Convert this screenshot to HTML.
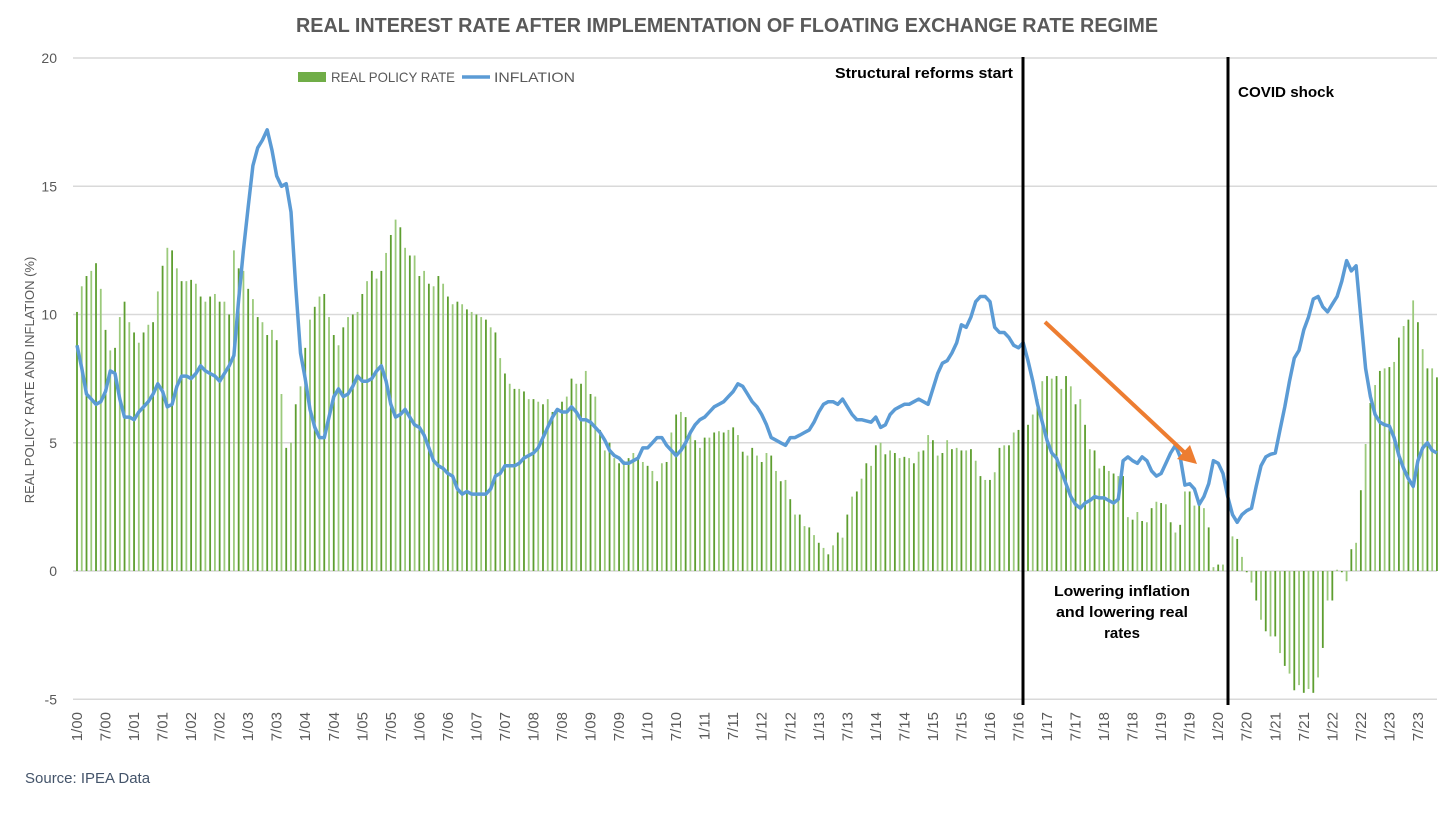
<!DOCTYPE html>
<html><head><meta charset="utf-8">
<style>
html,body{margin:0;padding:0;background:#fff;}
svg{display:block;font-family:"Liberation Sans",sans-serif;}
</style></head>
<body>
<svg id="chart" width="1456" height="818" viewBox="0 0 1456 818">
  <text x="727" y="32" text-anchor="middle" font-size="20" font-weight="bold" fill="#595959" textLength="862" lengthAdjust="spacingAndGlyphs">REAL INTEREST RATE AFTER IMPLEMENTATION OF FLOATING EXCHANGE RATE REGIME</text>
  <g id="grid"></g>
  <g id="yticks"></g>
  <g id="bars"></g>
  <path id="infl" fill="none" stroke="#5b9bd5" stroke-width="3.5" stroke-linejoin="round"/>
  <g id="xticks"></g>
  <text transform="translate(34,380) rotate(-90)" text-anchor="middle" font-size="13" fill="#595959">REAL POLICY RATE AND INFLATION (%)</text>
  <g>
    <rect x="298" y="72" width="28" height="10" fill="#70ad47"/>
    <text x="331" y="82" font-size="14" fill="#595959" textLength="124" lengthAdjust="spacingAndGlyphs">REAL POLICY RATE</text>
    <line x1="462" y1="77" x2="490" y2="77" stroke="#5b9bd5" stroke-width="3.5"/>
    <text x="494" y="82" font-size="14" fill="#595959" textLength="81" lengthAdjust="spacingAndGlyphs">INFLATION</text>
  </g>
  <line x1="1023" y1="57" x2="1023" y2="705" stroke="#000" stroke-width="3"/>
  <line x1="1228" y1="57" x2="1228" y2="705" stroke="#000" stroke-width="3"/>
  <text x="1013" y="78" text-anchor="end" font-size="15" font-weight="bold" fill="#000" textLength="178" lengthAdjust="spacingAndGlyphs">Structural reforms start</text>
  <text x="1238" y="97" font-size="15" font-weight="bold" fill="#000" textLength="96" lengthAdjust="spacingAndGlyphs">COVID shock</text>
  <g font-size="15" font-weight="bold" fill="#000" text-anchor="middle">
    <text x="1122" y="596" textLength="136" lengthAdjust="spacingAndGlyphs">Lowering inflation</text>
    <text x="1122" y="617" textLength="132" lengthAdjust="spacingAndGlyphs">and lowering real</text>
    <text x="1122" y="638">rates</text>
  </g>
  <g>
    <line x1="1045" y1="322" x2="1184" y2="452" stroke="#ed7d31" stroke-width="4"/>
    <polygon points="1197,464 1177,459 1190,445" fill="#ed7d31"/>
  </g>
  <text x="25" y="783" font-size="15" fill="#44546a">Source: IPEA Data</text>
</svg>
<script>
const inflation = [
8.8,7.9,6.9,6.7,6.5,6.6,7.0,7.8,7.7,6.7,6.0,6.0,
5.9,6.2,6.4,6.6,6.9,7.3,7.0,6.4,6.5,7.2,7.6,7.6,
7.5,7.7,8.0,7.8,7.7,7.6,7.4,7.7,8.0,8.4,10.6,12.5,
14.2,15.8,16.5,16.8,17.2,16.4,15.4,15.0,15.1,14.0,11.1,8.5,
7.5,6.3,5.6,5.2,5.2,6.0,6.8,7.1,6.8,6.9,7.2,7.6,
7.4,7.4,7.5,7.8,8.0,7.4,6.5,6.0,6.1,6.3,6.0,5.7,
5.6,5.3,4.8,4.3,4.1,4.0,3.8,3.7,3.2,3.0,3.1,3.0,
3.0,3.0,3.0,3.2,3.7,3.8,4.1,4.1,4.1,4.2,4.4,4.5,
4.6,4.8,5.2,5.6,6.0,6.3,6.2,6.2,6.4,6.2,5.9,5.9,
5.8,5.6,5.4,5.1,4.7,4.5,4.4,4.2,4.2,4.3,4.4,4.8,
4.8,5.0,5.2,5.2,4.9,4.7,4.5,4.7,5.0,5.4,5.7,5.9,
6.0,6.2,6.4,6.5,6.6,6.8,7.0,7.3,7.2,6.9,6.6,6.4,
6.1,5.7,5.2,5.1,5.0,4.9,5.2,5.2,5.3,5.4,5.5,5.8,
6.2,6.5,6.6,6.6,6.5,6.7,6.4,6.1,5.9,5.9,5.85,5.8,
6.0,5.6,5.7,6.1,6.3,6.4,6.5,6.5,6.6,6.7,6.6,6.5,
7.1,7.7,8.1,8.2,8.5,8.9,9.6,9.5,9.9,10.5,10.7,10.7,
10.5,9.5,9.3,9.3,9.1,8.8,8.7,8.9,8.2,7.4,6.5,5.8,
5.1,4.6,4.4,3.9,3.4,2.9,2.6,2.45,2.65,2.75,2.9,2.85,
2.85,2.75,2.65,2.8,4.3,4.45,4.3,4.2,4.45,4.3,3.9,3.7,
3.8,4.2,4.6,4.9,4.45,3.35,3.4,3.2,2.6,2.9,3.4,4.3,
4.2,3.8,2.9,2.2,1.9,2.2,2.35,2.45,3.3,4.1,4.45,4.55,
4.6,5.5,6.4,7.4,8.3,8.6,9.4,9.9,10.6,10.7,10.3,10.1,
10.4,10.7,11.3,12.1,11.7,11.9,9.9,7.9,6.8,6.1,5.8,5.7,
5.65,5.2,4.5,4.0,3.6,3.3,4.3,4.8,5.0,4.7,4.6];
const realRate = [
10.1,11.1,11.5,11.7,12.0,11.0,9.4,8.6,8.7,9.9,10.5,9.7,
9.3,8.9,9.3,9.6,9.7,10.9,11.9,12.6,12.5,11.8,11.3,11.3,
11.35,11.2,10.7,10.5,10.7,10.8,10.5,10.5,10.0,12.5,11.8,11.7,
11.0,10.6,9.9,9.7,9.2,9.4,9.0,6.9,4.8,5.0,6.5,7.2,
8.7,9.8,10.3,10.7,10.8,9.9,9.2,8.8,9.5,9.9,10.0,10.1,
10.8,11.3,11.7,11.4,11.7,12.4,13.1,13.7,13.4,12.6,12.3,12.3,
11.5,11.7,11.2,11.1,11.5,11.2,10.7,10.4,10.5,10.4,10.2,10.1,
10.0,9.9,9.8,9.5,9.3,8.3,7.7,7.3,7.1,7.1,7.0,6.7,
6.7,6.6,6.5,6.7,6.2,6.3,6.6,6.8,7.5,7.3,7.3,7.8,
6.9,6.8,5.5,4.7,5.0,4.4,4.2,4.3,4.4,4.6,4.5,4.25,
4.1,3.9,3.5,4.2,4.25,5.4,6.1,6.2,6.0,5.5,5.1,4.8,
5.2,5.2,5.4,5.45,5.4,5.5,5.6,5.3,4.65,4.5,4.8,4.5,
4.25,4.6,4.5,3.9,3.5,3.55,2.8,2.2,2.2,1.75,1.7,1.4,
1.1,0.9,0.65,1.0,1.5,1.3,2.2,2.9,3.1,3.6,4.2,4.1,
4.9,5.0,4.55,4.7,4.6,4.4,4.45,4.4,4.2,4.65,4.7,5.3,
5.1,4.5,4.6,5.1,4.75,4.8,4.7,4.7,4.75,4.3,3.7,3.55,
3.55,3.85,4.8,4.9,4.9,5.4,5.5,5.7,5.7,6.1,6.7,7.4,
7.6,7.5,7.6,7.1,7.6,7.2,6.5,6.7,5.7,4.75,4.7,4.0,
4.1,3.9,3.8,3.7,3.7,2.1,2.0,2.3,1.95,1.9,2.45,2.7,
2.65,2.6,1.9,1.5,1.8,3.1,3.1,2.55,2.55,2.45,1.7,0.15,
0.25,0.25,1.0,1.35,1.25,0.55,-0.05,-0.45,-1.15,-1.9,-2.35,-2.55,
-2.55,-3.2,-3.7,-4.0,-4.65,-4.45,-4.75,-4.6,-4.75,-4.15,-3.0,-1.15,
-1.15,0.05,-0.05,-0.4,0.85,1.1,3.15,4.95,6.55,7.25,7.8,7.9,
7.95,8.15,9.1,9.55,9.8,10.55,9.7,8.65,7.9,7.9,7.55];
const yTicks = [20,15,10,5,0,-5];
const startYear = 2000;

const NS = "http://www.w3.org/2000/svg";
const X0 = 77, DX = 4.755;
const Y0 = 571, DY = 25.65;
const xs = i => X0 + i*DX;
const ys = v => Y0 - v*DY;

const grid = document.getElementById('grid');
const yt = document.getElementById('yticks');
yTicks.forEach(t => {
  const l = document.createElementNS(NS,'line');
  l.setAttribute('x1',73); l.setAttribute('x2',1437);
  l.setAttribute('y1',ys(t)); l.setAttribute('y2',ys(t));
  l.setAttribute('stroke','#d9d9d9'); l.setAttribute('stroke-width','1.5');
  
  
  grid.appendChild(l);
  const tx = document.createElementNS(NS,'text');
  tx.setAttribute('x',57); tx.setAttribute('y',ys(t)+5);
  tx.setAttribute('text-anchor','end'); tx.setAttribute('font-size','14'); tx.setAttribute('fill','#595959');
  tx.textContent = t;
  
  
  yt.appendChild(tx);
});

const bars = document.getElementById('bars');
realRate.forEach((v,i) => {
  const r = document.createElementNS(NS,'rect');
  const y = Math.min(ys(v), Y0), h = Math.abs(ys(v)-Y0);
  r.setAttribute('x', xs(i)-0.9); r.setAttribute('width', 1.8);
  r.setAttribute('y', y); r.setAttribute('height', Math.max(h,0.3));
  r.setAttribute('fill', i%2 ? '#9cca7c' : '#5e9e30');
  
  
  bars.appendChild(r);
});

let d = '';
inflation.forEach((v,i) => { d += (i?'L':'M') + xs(i).toFixed(1) + ',' + ys(v).toFixed(1); });
document.getElementById('infl').setAttribute('d', d);

const xt = document.getElementById('xticks');
for (let i = 0; i < realRate.length; i += 6) {
  const m = (i % 12) + 1;
  const yy = String((startYear + Math.floor(i/12)) % 100).padStart(2,'0');
  const tx = document.createElementNS(NS,'text');
  tx.setAttribute('transform', `translate(${xs(i)+5},712) rotate(-90)`);
  tx.setAttribute('text-anchor','end'); tx.setAttribute('font-size','15'); tx.setAttribute('fill','#595959');
  tx.textContent = m + '/' + yy;
  
  
  xt.appendChild(tx);
}
</script>
</body></html>
